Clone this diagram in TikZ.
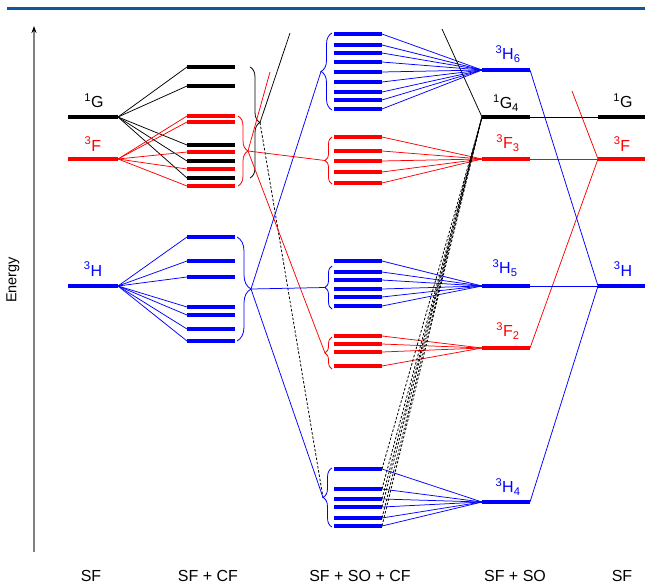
\documentclass[tikz,border=0pt]{standalone}
\usepackage{fontspec}
\setmainfont{Liberation Sans}
\usetikzlibrary{arrows.meta,decorations.pathreplacing}

\begin{document}
\begin{tikzpicture}[
            x=1pt,y=-1pt,
            font=\fontsize{16}{18}\selectfont,
            level/.style={line width=3.4pt},
            link/.style={line width=0.75pt},
            mixing/.style={line width=0.8pt,dash pattern=on 2.5pt off 1.8pt},
            bracer/.style={decorate,decoration={brace,amplitude=#1},line width=0.8pt}
        ]
            \definecolor{acs}{RGB}{16,88,156}
            \colorlet{blx}{blue}
            \colorlet{rex}{red}

            \useasboundingbox (0,0) rectangle (645,584);
            \draw [acs,line width=2.5pt] (7,8.5) -- (645,8.5);

            % energy axis
            \coordinate (e0) at (34,552);
            \coordinate (e1) at (34,26);
            \draw [gray,line width=1.2pt,-{Stealth[black,length=7pt,width=5pt]}] (e0) -- (e1);
            \node (energy) [rotate=90,font=\fontsize{14.5}{16}\selectfont] at (13,280) {Energy};

            % SF, left
            \draw [level]     (68,117) -- (118,117) coordinate (sfG);
            \draw [level,rex] (68,159) -- (118,159) coordinate (sfF);
            \draw [level,blx] (68,286) -- (118,286) coordinate (sfH);
            \node (lG)           at (94,101) {\textsuperscript{1}G};
            \node (lF) [rex]     at (93,144) {\textsuperscript{3}F};
            \node (lH) [blx]     at (93,269) {\textsuperscript{3}H};

            % SF, right
            \draw [level]     (598,117) coordinate (rG) -- (646,117);
            \draw [level,rex] (598,159) coordinate (rF) -- (646,159);
            \draw [level,blx] (598,286) coordinate (rH) -- (646,286);
            \node (rlG)          at (623,101) {\textsuperscript{1}G};
            \node (rlF) [rex]    at (622,144) {\textsuperscript{3}F};
            \node (rlH) [blx]    at (623,269) {\textsuperscript{3}H};

            % SF + SO
            \draw [level,blx] (482,70)  coordinate (H6) -- (530,70)  coordinate (H6r);
            \draw [level]     (482,117) coordinate (G4) -- (530,117) coordinate (G4r);
            \draw [level,rex] (482,159) coordinate (F3) -- (530,159) coordinate (F3r);
            \draw [level,blx] (482,286) coordinate (H5) -- (530,286) coordinate (H5r);
            \draw [level,rex] (482,348) coordinate (F2) -- (530,348) coordinate (F2r);
            \draw [level,blx] (482,502) coordinate (H4) -- (530,502) coordinate (H4r);
            \node (lH6) [blx] at (508,54)  {\textsuperscript{3}H\textsubscript{6}};
            \node (lG4)       at (506,103) {\textsuperscript{1}G\textsubscript{4}};
            \node (lF3) [rex] at (508,143) {\textsuperscript{3}F\textsubscript{3}};
            \node (lH5) [blx] at (505,268) {\textsuperscript{3}H\textsubscript{5}};
            \node (lF2) [rex] at (508,331) {\textsuperscript{3}F\textsubscript{2}};
            \node (lH4) [blx] at (508,487) {\textsuperscript{3}H\textsubscript{4}};

            % SF + CF
            \foreach \y in {67,86,145,161,178} {
                \coordinate (k) at (187,\y);
                \draw [link] (sfG) -- (k);
                \draw [level] (k) -- +(48,0);
            }
            \foreach \y in {116,122,152,169,186} {
                \coordinate (k) at (187,\y);
                \draw [link,rex] (sfF) -- (k);
                \draw [level,rex] (k) -- +(48,0);
            }
            \foreach \y in {237,261,277,307,315,329,341} {
                \coordinate (k) at (187,\y);
                \draw [link,blx] (sfH) -- (k);
                \draw [level,blx] (k) -- +(48,0);
            }
            \draw [bracer=10pt]     (250,67)  -- (250,178);
            \draw [bracer=10pt,rex] (238,116) -- (238,186);
            \draw [bracer=14pt,blx] (237,237) -- (237,341);
            \coordinate (cfG) at (260,122.5);
            \coordinate (cfF) at (248,151);
            \coordinate (cfH) at (251,289);

            % SF + SO + CF
            \draw [bracer=11pt,blx] (332,110) -- (332,33);
            \draw [bracer=7pt,rex]  (332,184) -- (332,137);
            \draw [bracer=7pt,blx]  (332,309) -- (332,266);
            \draw [bracer=7pt,rex]  (332,369) -- (332,337);
            \draw [bracer=9pt,blx]  (332,527) -- (332,468);
            \coordinate (bH6) at (321,71.5);
            \coordinate (bF3) at (325,160.5);
            \coordinate (bH5) at (325,287.5);
            \coordinate (bF2) at (325,353);
            \coordinate (bH4) at (323,497.5);

            \foreach \y in {34,45,53,62,72,82,92,100,109} {
                \draw [level,blx] (334,\y) -- (382,\y) coordinate (k);
                \draw [link,blx] (k) -- (H6);
            }
            \foreach \y in {137,151,161,172,183} {
                \draw [level,rex] (334,\y) -- (382,\y) coordinate (k);
                \draw [link,rex] (k) -- (F3);
            }
            \foreach \y in {261,272,280,289,297,306} {
                \draw [level,blx] (334,\y) -- (382,\y) coordinate (k);
                \draw [link,blx] (k) -- (H5);
            }
            \foreach \y in {336,344,352,366} {
                \draw [level,rex] (334,\y) -- (382,\y) coordinate (k);
                \draw [link,rex] (k) -- (F2);
            }
            \foreach \y in {469,489,499,507,518,526} {
                \draw [level,blx] (334,\y) -- (382,\y) coordinate (k);
                \draw [link,blx] (k) -- (H4);
                \draw [mixing] (k) -- (G4);
            }

            % braces to braces
            \coordinate (gUp) at (290,33);
            \coordinate (fUp) at (270,72);
            \draw [link]     (cfG) -- (gUp);
            \draw [mixing]   (cfG) -- (bH4);
            \draw [link,rex] (cfF) -- (fUp);
            \draw [link,rex] (cfF) -- (bF3);
            \draw [link,rex] (cfF) -- (bF2);
            \draw [link,blx] (cfH) -- (bH6);
            \draw [link,blx] (cfH) -- (bH5);
            \draw [link,blx] (cfH) -- (bH4);

            % SF + SO to SF
            \coordinate (g4Up) at (442,29);
            \coordinate (rfUp) at (572,91);
            \draw [link]     (G4)  -- (g4Up);
            \draw [link]     (G4r) -- (rG);
            \draw [link,rex] (F3r) -- (rF);
            \draw [link,rex] (F2r) -- (rF);
            \draw [link,rex] (rF)  -- (rfUp);
            \draw [link,blx] (H6r) -- (rH);
            \draw [link,blx] (H5r) -- (rH);
            \draw [link,blx] (H4r) -- (rH);

            % column titles
            \node (t1) at (91,576)  {SF};
            \node (t2) at (208,576) {SF + CF};
            \node (t3) at (360,576) {SF + SO + CF};
            \node (t4) at (515,576) {SF + SO};
            \node (t5) at (622,576) {SF};
        \end{tikzpicture}
\end{document}
